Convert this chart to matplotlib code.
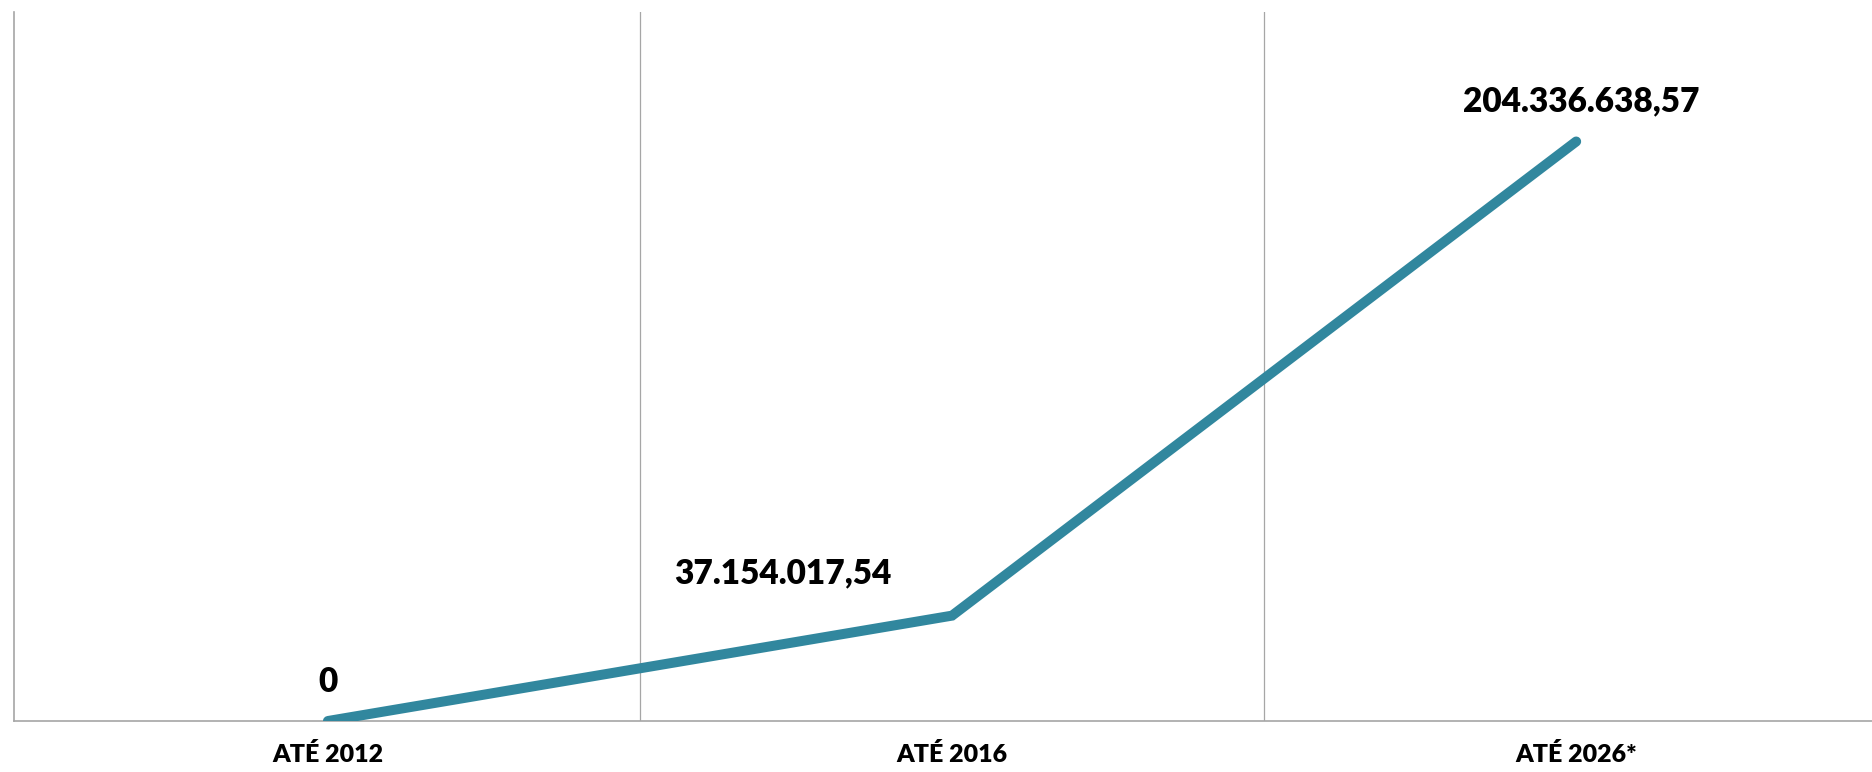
import matplotlib.pyplot as plt

# Data
categories = ["ATÉ 2012", "ATÉ 2016", "ATÉ 2026*"]
values = [0, 37154017.54, 204336638.57]
value_labels = ["0", "37.154.017,54", "204.336.638,57"]
label_offsets = [(0, 39), (-169, 42), (5, 40)]  # pixels

plt.rcParams["font.family"] = ["Lato", "DejaVu Sans"]

fig = plt.figure(figsize = (18.72, 7.72), dpi = 100)
ax = fig.add_axes([14 / 1872, 1 - 721 / 772, 1858 / 1872, 709 / 772])

x = list(range(len(categories)))
ax.plot(x, values, color = "#31879E", linewidth = 7.2, solid_capstyle = "round", solid_joinstyle = "miter", zorder = 3)

for i, (v, lab, off) in enumerate(zip(values, value_labels, label_offsets)):
    ax.annotate(lab, xy = (i, v), xytext = off, textcoords = "offset pixels",
                ha = "center", va = "center", fontsize = 24, fontweight = "heavy", color = "black")

ax.set_xlim(-0.503, 2.474)
ax.set_ylim(0, 250000000)

# vertical gridlines between categories
for b in [0.5, 1.5]:
    ax.axvline(b, color = "#A6A6A6", linewidth = 0.9, zorder = 1)

ax.set_xticks(x)
ax.set_xticklabels(categories, fontsize = 18, fontweight = "heavy")
ax.tick_params(axis = "x", length = 0, pad = 16)
ax.set_yticks([])

for side in ["top", "right"]:
    ax.spines[side].set_visible(False)
for side in ["left", "bottom"]:
    ax.spines[side].set_color("#A6A6A6")
    ax.spines[side].set_linewidth(1.2)

fig.savefig("out.png", dpi = 100)
